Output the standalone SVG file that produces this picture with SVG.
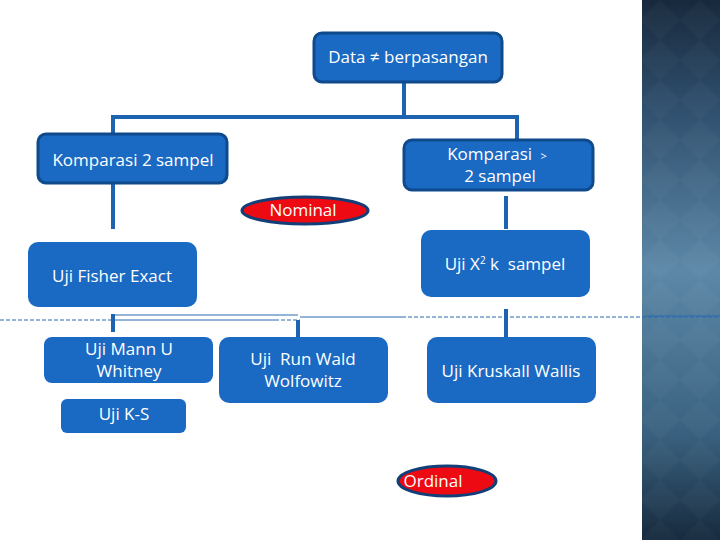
<svg xmlns="http://www.w3.org/2000/svg" width="720" height="540" viewBox="0 0 720 540">
<style>
text{font-family:"Open Sans","DejaVu Sans",sans-serif;font-size:17px;fill:#ffffff;text-anchor:middle}
.b1{fill:#1a69c2;stroke:#0e4a8c;stroke-width:3}
.b2{fill:#1a69c2}
.ov{fill:#ee0a12;stroke:#123f78;stroke-width:3}
.ln{fill:none;stroke:#1d63b0;stroke-width:4}
.th{fill:none;stroke:#2a6ab0;stroke-width:1}
.da{fill:none;stroke:#2a6ab0;stroke-width:1;stroke-dasharray:4 2}
</style>
<defs>
<linearGradient id="pg" x1="0" y1="0" x2="0" y2="1">
<stop offset="0" stop-color="#18293d"/>
<stop offset="0.2" stop-color="#2f4f6d"/>
<stop offset="0.5" stop-color="#5d88a8"/>
<stop offset="0.8" stop-color="#3a6280"/>
<stop offset="1" stop-color="#172a3e"/>
</linearGradient>
<pattern id="dm" width="40" height="40" patternUnits="userSpaceOnUse">
<path d="M20 0 L40 20 L20 40 L0 20 Z" fill="#ffffff" fill-opacity="0.025"/>
</pattern>
</defs>
<rect width="720" height="540" fill="#ffffff"/>
<g id="panel">
<rect x="642" y="0" width="78" height="540" fill="url(#pg)"/>
<rect x="642" y="0" width="78" height="540" fill="url(#dm)"/>
</g>
<g id="connectors">
<path class="ln" d="M404 82 V117 M113 117 H517 M113 115 V133 M517 115 V139"/>
<path class="ln" d="M113 183 V229 M506 196 V229"/>
<path class="da" d="M0 320 H112"/>
<path class="th" d="M112 320 H275 M115 315 H298 M300 317 H402"/>
<path class="da" d="M275 320 H300 M402 317 H720"/>
<path class="th" d="M645 316 H720"/>
<path class="ln" d="M113 314 V332 M298 320 V337 M506 309 V337"/>
</g>
<g id="n-data">
<rect class="b1" x="314" y="33" width="188" height="49" rx="8"/>
<text x="408" y="63">Data ≠ berpasangan</text>
</g>
<g id="n-komp2">
<rect class="b1" x="38" y="134" width="189" height="49" rx="8"/>
<text x="133" y="166">Komparasi 2 sampel</text>
</g>
<g id="n-kompk">
<rect class="b1" x="404" y="140" width="189" height="50" rx="8"/>
<text x="497" y="160">Komparasi <tspan font-size="11" dx="4">&gt;</tspan></text>
<text x="500" y="182">2 sampel</text>
</g>
<g id="n-nominal">
<ellipse class="ov" cx="305" cy="210.5" rx="63" ry="13.5"/>
<text x="303" y="216" font-size="16">Nominal</text>
</g>
<g id="n-chi">
<rect class="b2" x="421" y="230" width="169" height="67" rx="10"/>
<text x="505" y="270">Uji X<tspan font-size="10" dy="-6">2</tspan><tspan dy="6"> k&#160; sampel</tspan></text>
</g>
<g id="n-fisher">
<rect class="b2" x="28" y="242" width="169" height="65" rx="10"/>
<text x="112" y="282">Uji Fisher Exact</text>
</g>
<g id="n-mann">
<rect class="b2" x="44" y="337" width="169" height="46" rx="8"/>
<text x="129" y="355">Uji Mann U</text>
<text x="129" y="377">Whitney</text>
</g>
<g id="n-run">
<rect class="b2" x="219" y="337" width="169" height="66" rx="10"/>
<text x="303" y="365">Uji&#160; Run Wald</text>
<text x="303" y="387">Wolfowitz</text>
</g>
<g id="n-kruskal">
<rect class="b2" x="427" y="337" width="169" height="66" rx="10"/>
<text x="511" y="377">Uji Kruskall Wallis</text>
</g>
<g id="n-ks">
<rect class="b2" x="61" y="399" width="125" height="34" rx="6"/>
<text x="124" y="420">Uji K-S</text>
</g>
<g id="n-ordinal">
<ellipse class="ov" cx="447" cy="481" rx="49" ry="15"/>
<text x="433" y="487" font-size="16">Ordinal</text>
</g>
</svg>
